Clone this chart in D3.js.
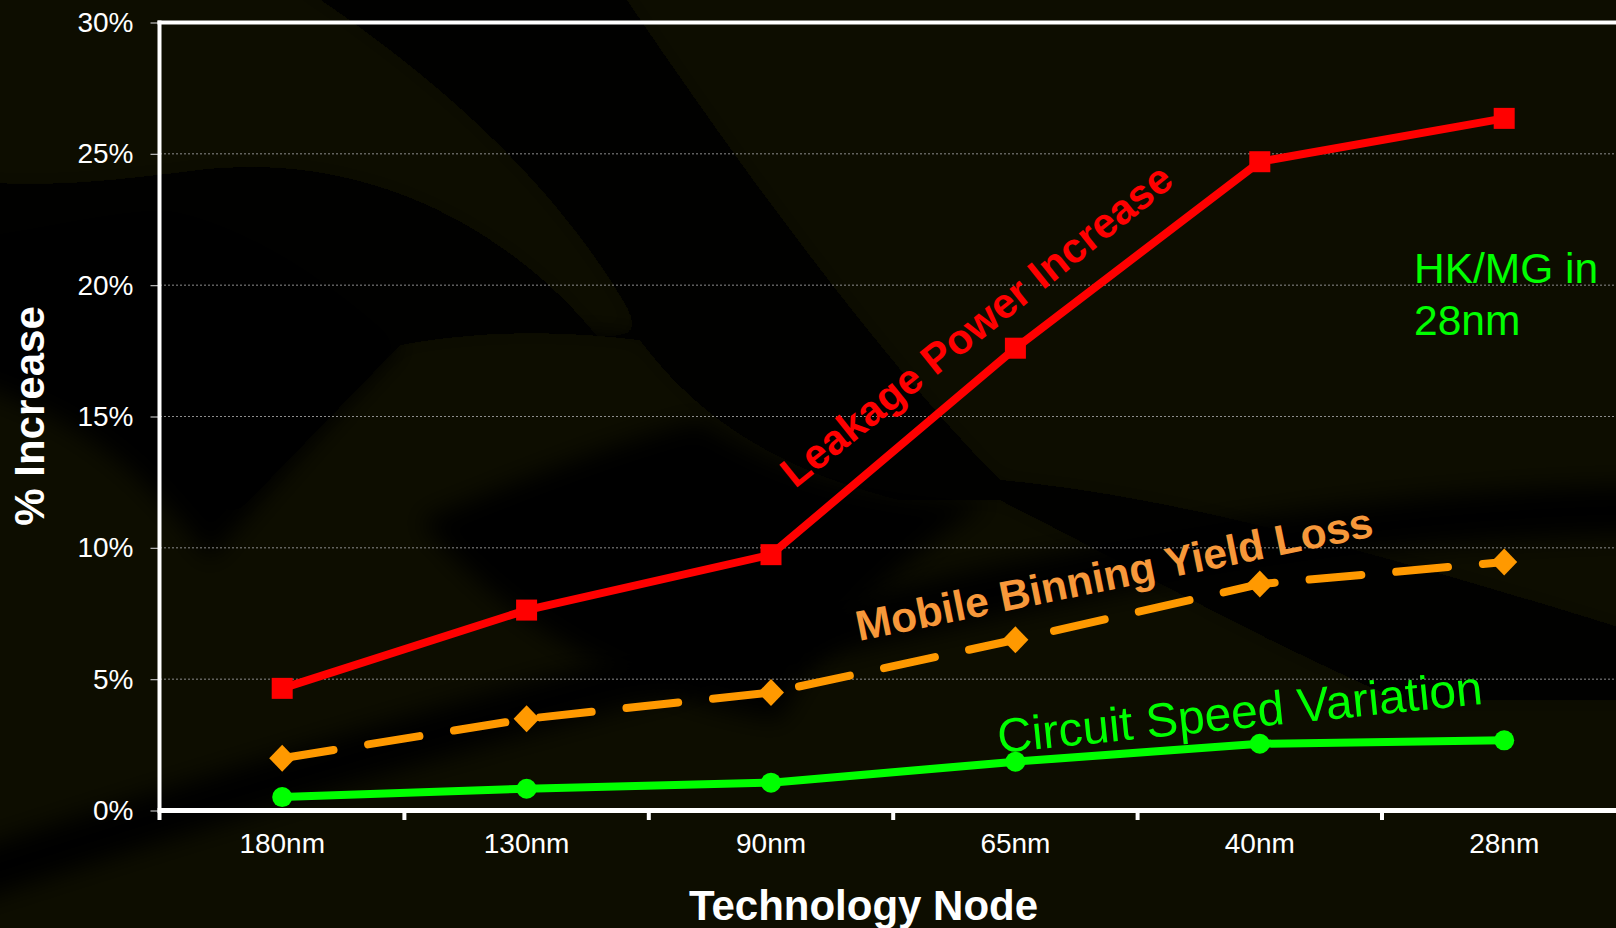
<!DOCTYPE html>
<html>
<head>
<meta charset="utf-8">
<script src="https://cdn.jsdelivr.net/npm/d3@7"></script>
<style>
  html, body { margin: 0; padding: 0; background: #000; }
  svg { display: block; }
  text { font-family: "Liberation Sans", Arial, Helvetica, sans-serif; }
</style>
</head>
<body>
<svg id="chart" width="1616" height="928"></svg>
<script>
// Technology nodes along the x axis
const categories = ["180nm", "130nm", "90nm", "65nm", "40nm", "28nm"];

// Series values, percent increase per node
const leakagePower = [4.65, 7.63, 9.74, 17.6, 24.7, 26.35];
const mobileBinning = [1.99, 3.49, 4.49, 6.5, 8.62, 9.46];
const circuitSpeed = [0.51, 0.83, 1.06, 1.86, 2.54, 2.67];

// Y axis tick values (percent)
const yTicks = [0, 5, 10, 15, 20, 25, 30];

const W = 1616, H = 928;
const svg = d3.select("#chart");

// ---- Background: near-black slide with faint olive swooshes ----
const defs = svg.append("defs");
defs.append("filter").attr("id", "soft")
  .attr("x", "-20%").attr("y", "-20%").attr("width", "140%").attr("height", "140%")
  .append("feGaussianBlur").attr("stdDeviation", 12);

const bg = svg.append("g");
bg.append("rect").attr("width", W).attr("height", H).attr("fill", "#010100");
const olive = "#0a0a04";
bg.append("path").attr("fill", olive).attr("filter", "url(#soft)")
  .attr("d", "M-40,-40 L260,-40 C420,60 560,180 640,330 L600,340 C520,240 380,150 200,170 C120,180 40,190 -40,180 Z");
bg.append("path").attr("fill", olive).attr("filter", "url(#soft)")
  .attr("d", "M-40,310 C80,340 170,430 230,520 L400,345 C480,330 560,330 640,340 C700,420 780,470 900,500 L1000,500 C1120,560 1260,640 1400,700 L1660,700 L1660,960 L-40,960 Z");
bg.append("path").attr("fill", olive).attr("filter", "url(#soft)")
  .attr("d", "M600,-40 L1660,-40 L1660,640 C1400,560 1200,500 1000,480 C900,380 760,200 600,-40 Z");
bg.append("path").attr("fill", "#000").attr("filter", "url(#soft)")
  .attr("d", "M170,210 C260,230 340,290 400,345 C330,420 260,500 210,560 C150,480 90,420 -40,380 L-40,240 C40,230 110,210 170,210 Z");
bg.append("path").attr("fill", "#000").attr("filter", "url(#soft)")
  .attr("d", "M420,520 C520,480 620,440 700,420 C780,470 880,500 990,500 C900,560 820,640 780,720 C650,700 520,640 420,520 Z");
bg.append("path").attr("fill", "none").attr("stroke", "#000").attr("stroke-width", 50)
  .attr("filter", "url(#soft)")
  .attr("d", "M-40,880 C300,770 700,650 1100,570 C1300,530 1500,510 1660,510");

// ---- Scales ----
const x = d3.scaleBand().domain(categories).range([160, 160 + 6 * 244.4]).padding(0);
const y = d3.scaleLinear().domain([0, 30]).range([810.5, 22.5]);
const cx = d => x(d) + x.bandwidth() / 2;

// ---- Gridlines ----
svg.append("g").selectAll("line")
  .data(yTicks.filter(t => t > 0 && t < 30))
  .join("line")
  .attr("x1", 160).attr("x2", W)
  .attr("y1", d => y(d)).attr("y2", d => y(d))
  .attr("stroke", "#8c8c8c").attr("stroke-width", 1)
  .attr("stroke-dasharray", "2,2");

// ---- Y axis ----
const yAxis = svg.append("g").attr("transform", "translate(159.5,0)")
  .call(d3.axisLeft(y).tickValues(yTicks).tickFormat(d => d + "%").tickSize(9).tickPadding(17));
yAxis.select(".domain").remove();
yAxis.selectAll(".tick line").attr("stroke", "#bdbdbd").attr("stroke-width", 1.2);
yAxis.selectAll(".tick text")
  .attr("fill", "#fff").attr("font-size", 28).attr("font-family", "Liberation Sans, Arial, sans-serif");

// ---- X axis (labels centred in each band, ticks at band edges) ----
const xAxis = svg.append("g").attr("transform", "translate(0,810.5)")
  .call(d3.axisBottom(x).tickSize(0).tickPadding(23));
xAxis.select(".domain").remove();
xAxis.selectAll(".tick text")
  .attr("fill", "#fff").attr("font-size", 28).attr("font-family", "Liberation Sans, Arial, sans-serif")
  .attr("dy", "0.71em");
svg.append("g").selectAll("line")
  .data(categories.slice(1))
  .join("line")
  .attr("x1", d => x(d)).attr("x2", d => x(d))
  .attr("y1", 810).attr("y2", 820)
  .attr("stroke", "#fff").attr("stroke-width", 4);

// ---- Plot frame: left, top and bottom white rules ----
svg.append("line").attr("x1", 159.5).attr("x2", 159.5).attr("y1", 20.5).attr("y2", 820)
  .attr("stroke", "#fff").attr("stroke-width", 4);
svg.append("line").attr("x1", 157.5).attr("x2", W).attr("y1", y(30)).attr("y2", y(30))
  .attr("stroke", "#fff").attr("stroke-width", 4);
svg.append("line").attr("x1", 157.5).attr("x2", W).attr("y1", y(0)).attr("y2", y(0))
  .attr("stroke", "#fff").attr("stroke-width", 5);

// ---- Series ----
const line = d3.line().x((d, i) => cx(categories[i])).y(d => y(d));

// Circuit speed variation (green, circles)
svg.append("path").datum(circuitSpeed)
  .attr("d", line).attr("fill", "none")
  .attr("stroke", "#00ff00").attr("stroke-width", 8).attr("stroke-linejoin", "round");
svg.append("g").selectAll("circle").data(circuitSpeed).join("circle")
  .attr("cx", (d, i) => cx(categories[i])).attr("cy", d => y(d))
  .attr("r", 10).attr("fill", "#00ff00");

// Mobile binning yield loss (orange, dashed, diamonds)
svg.append("path").datum(mobileBinning)
  .attr("d", line).attr("fill", "none")
  .attr("stroke", "#ff9900").attr("stroke-width", 8)
  .attr("stroke-linecap", "round").attr("stroke-dasharray", "52,35");
svg.append("g").selectAll("path").data(mobileBinning).join("path")
  .attr("transform", (d, i) => `translate(${cx(categories[i])},${y(d)})`)
  .attr("d", "M0,-13.5 L13,0 L0,13.5 L-13,0 Z").attr("fill", "#ff9900");

// Leakage power increase (red, squares)
svg.append("path").datum(leakagePower)
  .attr("d", line).attr("fill", "none")
  .attr("stroke", "#ff0000").attr("stroke-width", 8).attr("stroke-linejoin", "miter");
svg.append("g").selectAll("rect").data(leakagePower).join("rect")
  .attr("x", (d, i) => cx(categories[i]) - 10.5).attr("y", d => y(d) - 10.5)
  .attr("width", 21).attr("height", 21).attr("fill", "#ff0000");

// ---- Series labels ----
svg.append("text")
  .attr("transform", "translate(795,489) rotate(-38.7)")
  .attr("fill", "#ff0000").attr("font-size", 42).attr("font-weight", "bold")
  .text("Leakage Power Increase");

svg.append("text")
  .attr("transform", "translate(859,641) rotate(-11.5)")
  .attr("fill", "#f7983a").attr("font-size", 42.5).attr("font-weight", "bold")
  .text("Mobile Binning Yield Loss");

svg.append("text")
  .attr("transform", "translate(999,753) rotate(-5.8)")
  .attr("fill", "#00ff00").attr("font-size", 48)
  .text("Circuit Speed Variation");

const hk = svg.append("text").attr("fill", "#00ff00").attr("font-size", 42.5);
hk.append("tspan").attr("x", 1414).attr("y", 283).text("HK/MG in");
hk.append("tspan").attr("x", 1414).attr("y", 335).text("28nm");

// ---- Axis titles ----
svg.append("text")
  .attr("transform", "translate(44,416) rotate(-90)")
  .attr("text-anchor", "middle")
  .attr("fill", "#fff").attr("font-size", 42).attr("font-weight", "bold")
  .text("% Increase");

svg.append("text")
  .attr("x", 863.5).attr("y", 920)
  .attr("text-anchor", "middle")
  .attr("fill", "#fff").attr("font-size", 42).attr("font-weight", "bold")
  .text("Technology Node");
</script>
</body>
</html>
